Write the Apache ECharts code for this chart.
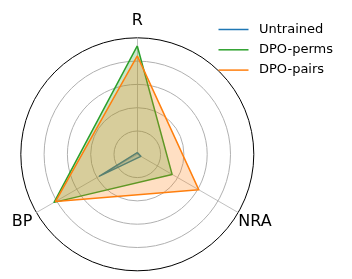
<!DOCTYPE html>
<html><head><meta charset="utf-8">
<script src="https://cdn.jsdelivr.net/npm/echarts@6/dist/echarts.min.js"></script>
<style>html,body{margin:0;padding:0;background:#fff}#c{width:352px;height:279px}</style>
</head><body><div id="c"></div>
<script>
// axes in drawing order (ECharts radar goes counter-clockwise from top)
const axes = ['R', 'BP', 'NRA'];
const seriesNames = ['Untrained', 'DPO-perms', 'DPO-pairs'];
const untrained = [0.015, 0.375, 0.035];
const dpoPerms = [0.93, 0.825, 0.345];
const dpoPairs = [0.845, 0.81, 0.61];
const colors = ['#1f77b4', '#2ca02c', '#ff7f0e'];
const values = [untrained, dpoPerms, dpoPairs];

const chart = echarts.init(document.getElementById('c'), null, {renderer: 'canvas'});
chart.setOption({
  animation: false,
  textStyle: {fontFamily: 'DejaVu Sans'},
  legend: {
    orient: 'vertical', left: 218.5, top: 23, padding: 0,
    itemWidth: 30, itemHeight: 1.5, icon: 'rect', itemGap: 7.3,
    textStyle: {fontSize: 13, lineHeight: 13, color: '#000', fontFamily: 'DejaVu Sans', padding: [0,0,0,5.5]},
    data: seriesNames
  },
  radar: {
    center: [137.3, 154.3],
    radius: 116.5,
    startAngle: 90,
    splitNumber: 5,
    shape: 'circle',
    indicator: axes.map(n => ({name: n, max: 1, min: 0})),
    nameGap: 0,
    axisName: {
      color: '#000', fontSize: 16, fontFamily: 'DejaVu Sans',
      formatter: n => '{' + (n === 'R' ? 'r' : n === 'BP' ? 'bp' : 'nra') + '|' + n + '}',
      rich: {
        r: {fontSize: 16, color: '#000', fontFamily: 'DejaVu Sans', padding: [0, 0, 9, 0]},
        bp: {fontSize: 16, color: '#000', fontFamily: 'DejaVu Sans', padding: [18, 4, 0, 0]},
        nra: {fontSize: 16, color: '#000', fontFamily: 'DejaVu Sans', padding: [18, 0, 0, 0]}
      }
    },
    axisLine: {lineStyle: {color: '#b0b0b0', width: 0.8}},
    splitLine: {lineStyle: {color: ['#b0b0b0','#b0b0b0','#b0b0b0','#b0b0b0','#b0b0b0','#000000'], width: 1}},
    splitArea: {show: false},
    axisTick: {show: false},
    axisLabel: {show: false}
  },
  series: seriesNames.map((name, i) => ({
    type: 'radar',
    name: name,
    symbol: 'none',
    color: colors[i],
    lineStyle: {color: colors[i], width: 1.5},
    areaStyle: {color: colors[i], opacity: 0.25},
    data: [{value: values[i], name: name}]
  }))
});
</script></body></html>
